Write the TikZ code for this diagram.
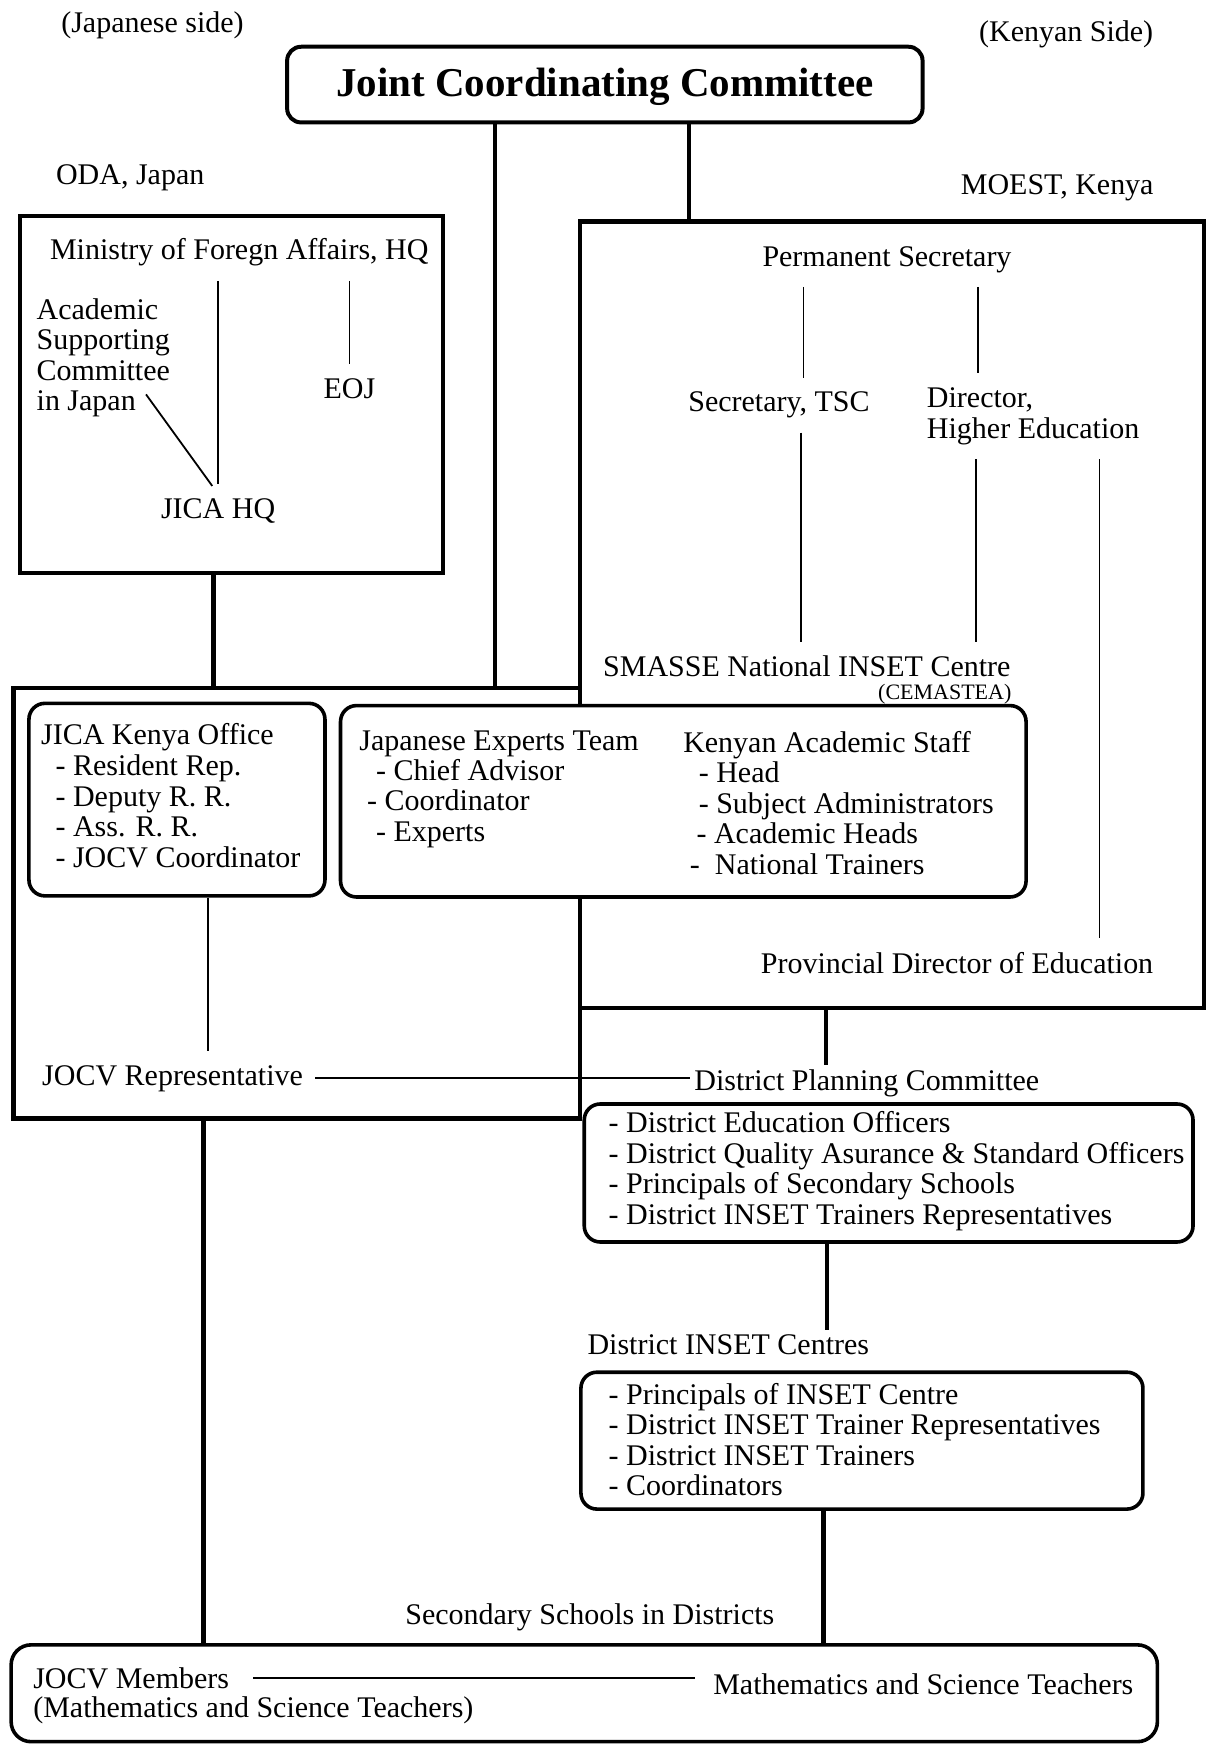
\documentclass[tikz,border=0pt]{standalone}
\usepackage{fontspec}
\setmainfont{Liberation Serif}
\usetikzlibrary{fit}

\tikzset{
  orgbox/.style={draw, line width=2.2pt, inner sep=0pt, fit={#1}},
  roundbox/.style={draw, line width=1.8pt, rounded corners=8pt, inner sep=0pt, fill=white, fit={#1}},
  txt/.style={font=\fontsize{15}{15.3}\selectfont, inner sep=2pt},
  item/.style={txt, anchor=base west},
  thickline/.style={line width=2.2pt},
  link/.style={line width=0.9pt},
  gap/.style={shorten <=5pt, shorten >=5pt}
}

\begin{document}
\begin{tikzpicture}[x=0.5567pt, y=-0.5567pt]
  \useasboundingbox (0,0) rectangle (1086,1568);

  % committee and side headings
  \node[txt] (jside) at (137,23) {(Japanese side)};
  \node[txt] (kside) at (958,31) {(Kenyan Side)};
  \node[roundbox={(258,42) (829,110)}, rounded corners=7pt, line width=2pt] (jcc) {};
  \node[font=\fontsize{20.5}{24}\selectfont\bfseries] (jcctitle) at ([yshift=-1pt]jcc.center) {Joint Coordinating Committee};
  \node[txt] (oda) at (117,160) {ODA, Japan};
  \node[txt] (moest) at (950,169) {MOEST, Kenya};

  % Japanese side
  \node[orgbox={(18,194) (398,515)}] (mofabox) {};
  \node[txt] (mofa) at (215,227) {Ministry of Foregn Affairs, HQ};
  \foreach \i/\name in {1/Academic, 2/Supporting, 3/Committee, 4/in Japan}
    \node[item] (asc\i) at (29,{287+27.3*(\i-1)}) {\name};
  \node[txt] (eoj) at (314,349) {EOJ};
  \node[txt] (jicahq) at (196,459) {JICA HQ};

  % Kenyan side
  \node[orgbox={(521,199) (1082,906)}] (moestbox) {};
  \node[txt] (ps) at (797,233) {Permanent Secretary};
  \node[txt] (tsc) at (700,364) {Secretary, TSC};
  \node[item] (dhe1) at (829,366) {Director,};
  \node[item] (dhe2) at (829,394) {Higher Education};
  \node[txt] (smasse) at (725,599) {SMASSE National INSET Centre};
  \node[font=\fontsize{11}{13}\selectfont, inner sep=0.5pt, anchor=east] (cema) at (910,624) {(CEMASTEA)};
  \node[txt] (pde) at (860,865) {Provincial Director of Education};

  % JICA Kenya and the national centre
  \node[orgbox={(12,618) (521,1005)}] (jicabox) {};
  \node[roundbox={(26,632) (292,805)}] (jkobox) {};
  \node[item] (jko) at (33,669) {JICA Kenya Office};
  \foreach \i/\name in {0/Resident Rep., 1/Deputy R. R., 2/Ass. R. R., 3/JOCV Coordinator}
    \node[item] (jko\i) at (46,{697+27.4*\i}) {- \name};
  \node[roundbox={(306,634) (922,806)}] (cemabox) {};
  \node[item] (jet) at (319,674) {Japanese Experts Team};
  \foreach \i/\x/\name in {0/334/Chief Advisor, 1/326/Coordinator, 2/334/Experts}
    \node[item] (jet\i) at (\x,{701+27.5*\i}) {- \name};
  \node[item] (kas) at (610,676) {Kenyan Academic Staff};
  \foreach \i/\x/\name in {0/624/Head, 1/624/Subject Administrators, 2/622/Academic Heads, 3/616/\ National Trainers}
    \node[item] (kas\i) at (\x,{703+27.6*\i}) {- \name};
  \node[txt, anchor=west] (jocvrep) at (34,969) {JOCV Representative};

  % district level
  \node[txt, anchor=west] (dpc) at (620,973) {District Planning Committee};
  \node[roundbox={(525,992) (1072,1116)}] (dpcbox) {};
  \foreach \i/\name in {0/District Education Officers, 1/District Quality Asurance \& Standard Officers, 2/Principals of Secondary Schools, 3/District INSET Trainers Representatives}
    \node[item] (dpc\i) at (543,{1018+27.3*\i}) {- \name};
  \node[txt, anchor=west] (dic) at (524,1208) {District INSET Centres};
  \node[roundbox={(522,1233) (1027,1356)}] (dicbox) {};
  \foreach \i/\name in {0/Principals of INSET Centre, 1/District INSET Trainer Representatives, 2/District INSET Trainers, 3/Coordinators}
    \node[item] (dic\i) at (543,{1262+27.3*\i}) {- \name};
  \node[txt] (ssd) at (530,1453) {Secondary Schools in Districts};

  % schools
  \node[roundbox={(10,1478) (1040,1565)}, rounded corners=10pt] (membox) {};
  \node[txt, anchor=west] (jocvm) at (26,1508) {JOCV Members};
  \node[txt, anchor=west] (jocvmsub) at (26,1537) {(Mathematics and Science Teachers)};
  \node[txt, anchor=west] (mst) at (637,1513) {Mathematics and Science Teachers};

  % connectors
  \draw[thickline] (jcc.south -| 445,0) -- (jicabox.north -| 445,0);
  \draw[thickline] (jcc.south -| 619,0) -- (moestbox.north -| 619,0);
  \draw[thickline] (mofabox.south -| 192,0) -- (jicabox.north -| 192,0);
  \draw[link, gap] (mofa.south -| jicahq.north) -- (jicahq.north);
  \draw[link, gap] (asc4.north east) -- (jicahq.north);
  \draw[link, gap] (mofa.south -| eoj.north) -- (eoj.north);
  \draw[link, gap] (ps.south -| 722,0) -- (tsc.north -| 722,0);
  \draw[link, gap] (ps.south -| 879,0) -- (dhe1.north -| 879,0);
  \draw[link, gap] (tsc.south -| 720,0) -- (smasse.north -| 720,0);
  \draw[link, gap] (dhe2.south -| 877,0) -- (smasse.north -| 877,0);
  \draw[link, gap] (dhe2.south -| 988,0) -- (pde.north -| 988,0);
  \draw[thickline] (moestbox.south -| 742,0) -- (dpc.north -| 742,0);
  \draw[link, shorten >=5pt] (jkobox.south -| 187,0) -- (jocvrep.north -| 187,0);
  \draw[link, shorten <=4pt] (jocvrep.east) -- (jocvrep.east -| dpc.west);
  \draw[thickline] (dpcbox.south -| 743,0) -- (dic.north -| 743,0);
  \draw[thickline] (dicbox.south -| 740,0) -- (membox.north -| 740,0);
  \draw[thickline] (jicabox.south -| 183,0) -- (membox.north -| 183,0);
  \draw[link, shorten <=10pt, shorten >=7pt] (jocvm.east) -- (jocvm.east -| mst.west);
\end{tikzpicture}
\end{document}
